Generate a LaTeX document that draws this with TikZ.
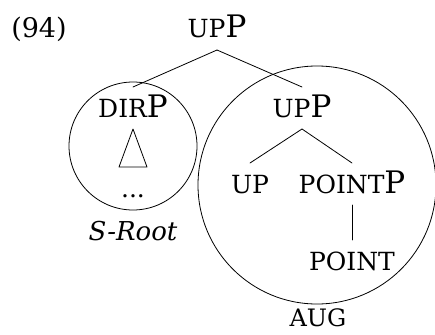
\documentclass[tikz,border=0pt]{standalone}
\usepackage{fontspec}
\setmainfont{DejaVu Serif}
\newcommand{\bigP}{{\fontsize{31}{31}\selectfont P}}
\tikzset{
  every picture/.append style={line cap=round,line join=round},
  tree label/.style={inner sep=0pt,outer sep=12pt,text height=18pt,text depth=0pt,anchor=base,font=\fontsize{25}{25}\selectfont},
  tree edge/.style={line width=0.8pt},
  tree domain/.style={draw,circle,inner sep=0pt,line width=0.8pt},
  tree note/.style={anchor=base,inner sep=0pt,font=\fontsize{26}{26}\selectfont}
}
\begin{document}
\begin{tikzpicture}[x=1pt,y=-1pt]
  \useasboundingbox (0,0) rectangle (435,334);
  \clip (0,0) rectangle (435,334);
  \node[tree domain,minimum size=128pt] (sroot) at (133,146) {};
  \node[tree domain,minimum size=238pt] (aug) at (317,185) {};
  \node[tree note,font=\fontsize{27}{27}\selectfont] (ex) at (39,38) {(94)};
  \node[tree label] (root) at (217,38) {UP\bigP};
  \node[tree label] (dirp) at (133,117) {DIR\bigP};
  \node[tree label] (upp) at (302,117) {UP\bigP};
  \node[tree label] (up) at (250,193) {UP};
  \node[tree label] (pointp) at (352,193) {POINT\bigP};
  \node[tree label] (point) at (352,270) {POINT};
  \node[tree label] (dots) at (133,197) {...};
  \node[tree note,font=\fontsize{26}{26}\selectfont\itshape] (srootlbl) at (133,240) {S-Root};
  \node[tree note,font=\fontsize{24}{24}\selectfont] (auglbl) at (318,326) {AUG};
  \draw[tree edge] (root.south) -- (dirp.north);
  \draw[tree edge] (root.south) -- (upp.north);
  \draw[tree edge] (upp.south) -- (up.north);
  \draw[tree edge] (upp.south) -- (pointp.north);
  \draw[tree edge] (pointp.south) -- (point.north);
  \draw[tree edge] (dirp.south) -- ++(-14,38) -- ++(28,0) -- cycle;
\end{tikzpicture}
\end{document}
